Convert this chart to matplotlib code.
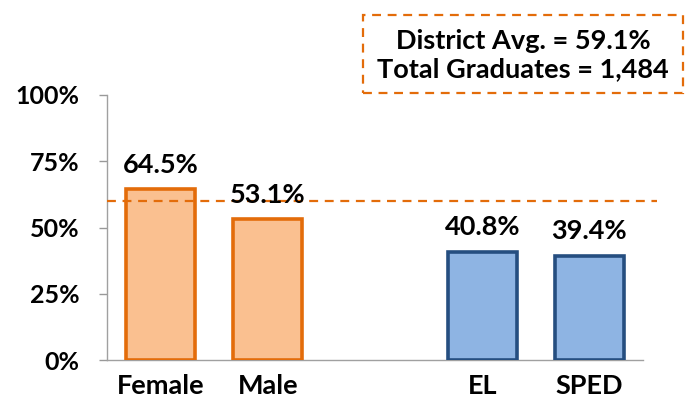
import matplotlib
matplotlib.use("Agg")
import matplotlib.pyplot as plt

categories = ["Female", "Male", "EL", "SPED"]
positions = [0, 1, 3, 4]
rates = [64.5, 53.1, 40.8, 39.4]
district_avg = 60.0
avg_label = "59.1%"
total_grads = "1,484"
y_ticks = [0, 25, 50, 75, 100]

ORANGE_EDGE = "#E36C0A"
ORANGE_FILL = "#FAC090"
BLUE_EDGE = "#254E80"
BLUE_FILL = "#8EB4E3"

plt.rcParams["font.family"] = ["Lato", "DejaVu Sans"]
plt.rcParams["font.weight"] = "bold"

fig = plt.figure(figsize=(6.93, 4.12), dpi=100)
ax = fig.add_axes([107 / 693, 52 / 412, 536 / 693, 265 / 412])

fills = [ORANGE_FILL, ORANGE_FILL, BLUE_FILL, BLUE_FILL]
edges = [ORANGE_EDGE, ORANGE_EDGE, BLUE_EDGE, BLUE_EDGE]
bars = ax.bar(positions, rates, width=0.64, color=fills, edgecolor=edges,
              linewidth=2.6, zorder=3)
for x, v in zip(positions, rates):
    ax.annotate(f"{v:.1f}%", (x, v), textcoords="offset points", xytext=(0, 9),
                ha="center", va="bottom", fontsize=19.5, fontweight="bold", zorder=5)

ax.plot([-0.5, 4.63], [district_avg, district_avg], color=ORANGE_EDGE,
        linestyle=(0, (4, 3)), linewidth=1.6, clip_on=False, zorder=4)

ax.set_xlim(-0.5, 4.5)
ax.set_ylim(0, 100)
ax.set_yticks(y_ticks)
ax.set_yticklabels([f"{t}%" for t in y_ticks])
ax.set_xticks(positions)
ax.set_xticklabels(categories)
ax.tick_params(axis="y", length=6, width=1, color="#999999", labelsize=18, pad=14)
ax.tick_params(axis="x", length=0, labelsize=19.5, pad=10)
for s in ("top", "right"):
    ax.spines[s].set_visible(False)
for s in ("left", "bottom"):
    ax.spines[s].set_color("#a0a0a0")
    ax.spines[s].set_linewidth(1)

fig.text(523 / 693, 1 - 55 / 412,
         f"District Avg. = {avg_label}\nTotal Graduates = {total_grads}",
         ha="center", va="center", fontsize=19.5, fontweight="bold",
         linespacing=1.2)
box = plt.Rectangle((363 / 693, 1 - 93 / 412), 320 / 693, 78 / 412,
                    transform=fig.transFigure, fill=False, edgecolor=ORANGE_EDGE,
                    linestyle=(0, (4, 3)), linewidth=1.6)
fig.add_artist(box)

fig.savefig("out.png", dpi=100)
